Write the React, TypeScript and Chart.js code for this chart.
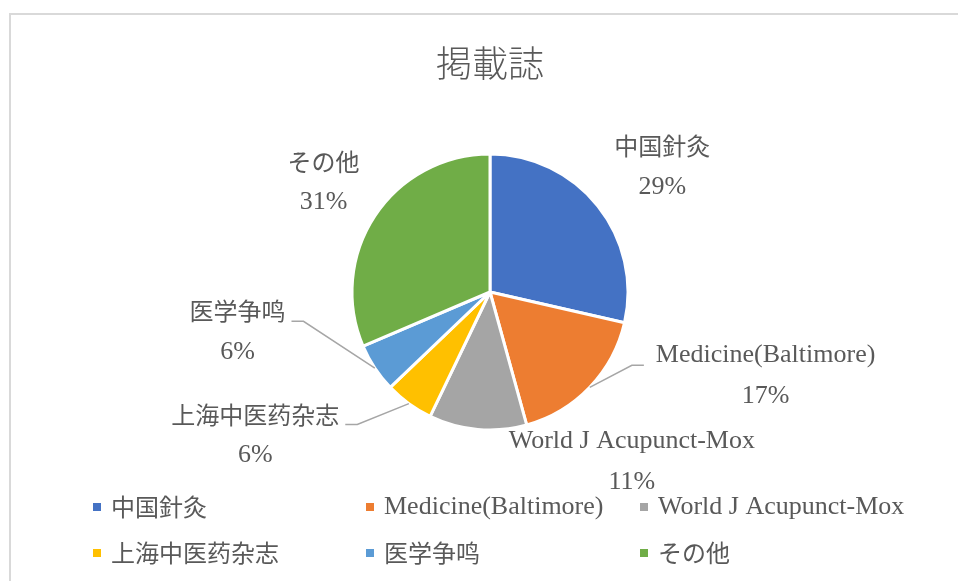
import React, { useEffect, useRef } from "react";
import { Chart, registerables } from "chart.js";

Chart.register(...registerables);

const TITLE = "掲載誌";
const categories = [
  "中国針灸",
  "Medicine(Baltimore)",
  "World J Acupunct-Mox",
  "上海中医药杂志",
  "医学争鸣",
  "その他",
];
const counts = [10, 6, 4, 2, 2, 11];
const colors = ["#4472C4", "#ED7D31", "#A5A5A5", "#FFC000", "#5B9BD5", "#70AD47"];

// label block offsets from the default radial position (style only)
const labelOffsets: [number, number][] = [
  [5, 8],
  [121, -64],
  [161, -43],
  [-109, -30],
  [-74, -78],
  [12, 8],
];
const hasLeader = [false, true, false, true, true, false];

const TEXT_COLOR = "#595959";
const CJK_RE = /[\u3000-\u9fff\uff00-\uffef]/;
const fontFor = (s: string) =>
  CJK_RE.test(s) ? '24px "Noto Sans CJK JP"' : '26px "Liberation Serif", "Noto Sans CJK JP"';

const overlayPlugin = {
  id: "excelOverlay",
  afterDraw(chart: any) {
    const ctx: CanvasRenderingContext2D = chart.ctx;
    ctx.save();

    // chart frame border
    ctx.strokeStyle = "#d9d9d9";
    ctx.lineWidth = 2;
    ctx.strokeRect(10, 14, 1000, 700);

    // title
    ctx.fillStyle = TEXT_COLOR;
    ctx.font = '300 36px "Noto Sans CJK JP"';
    ctx.textAlign = "center";
    ctx.textBaseline = "middle";
    ctx.fillText(TITLE, 490, 63);

    // data labels
    const meta = chart.getDatasetMeta(0);
    const total = counts.reduce((a, b) => a + b, 0);
    meta.data.forEach((arc: any, i: number) => {
      const { x, y, startAngle, endAngle, outerRadius } = arc.getProps(
        ["x", "y", "startAngle", "endAngle", "outerRadius"],
        true
      );
      const mid = (startAngle + endAngle) / 2;
      const base = outerRadius * 1.55;
      const bx = x + Math.cos(mid) * base + labelOffsets[i][0];
      const by = y + Math.sin(mid) * base + labelOffsets[i][1];
      const nameY = by - 20.5;
      const pctY = by + 20.5;
      const name = categories[i];
      const pct = Math.round((counts[i] / total) * 100) + "%";

      ctx.fillStyle = TEXT_COLOR;
      ctx.textAlign = "center";
      ctx.textBaseline = "middle";
      ctx.font = fontFor(name);
      const w = ctx.measureText(name).width;
      ctx.fillText(name, bx, nameY);
      ctx.font = fontFor(pct);
      ctx.fillText(pct, bx, pctY);

      if (hasLeader[i]) {
        const sx = x + Math.cos(mid) * outerRadius;
        const sy = y + Math.sin(mid) * outerRadius;
        const ly = nameY + 10;
        let ex: number, elx: number;
        if (bx > x) {
          ex = bx - w / 2 - 12;
          elx = ex - 12;
        } else {
          ex = bx + w / 2 + 6;
          elx = ex + 12;
        }
        ctx.strokeStyle = "#a6a6a6";
        ctx.lineWidth = 1.5;
        ctx.beginPath();
        ctx.moveTo(sx, sy);
        ctx.lineTo(elx, ly);
        ctx.lineTo(ex, ly);
        ctx.stroke();
      }
    });

    // legend (3 columns x 2 rows)
    const colX = [93, 366, 640];
    const rowY = [507, 553];
    categories.forEach((c, i) => {
      const cx = colX[i % 3];
      const cy = rowY[Math.floor(i / 3)];
      ctx.fillStyle = colors[i];
      ctx.fillRect(cx, cy - 4, 8, 8);
      ctx.fillStyle = TEXT_COLOR;
      ctx.textAlign = "left";
      ctx.textBaseline = "middle";
      ctx.font = fontFor(c);
      ctx.fillText(c, cx + 18, cy);
    });

    ctx.restore();
  },
};

export default function App() {
  const ref = useRef<HTMLCanvasElement | null>(null);

  useEffect(() => {
    if (!ref.current) return;
    const chart = new Chart(ref.current, {
      type: "pie",
      data: {
        labels: categories,
        datasets: [
          {
            data: counts,
            backgroundColor: colors,
            borderColor: "#ffffff",
            borderWidth: 3,
          },
        ],
      },
      options: {
        responsive: false,
        animation: false,
        devicePixelRatio: 1,
        layout: {
          padding: { left: 350.5, right: 328.5, top: 152.5, bottom: 149.5 },
        },
        plugins: {
          legend: { display: false },
          title: { display: false },
          tooltip: { enabled: false },
        },
      },
      plugins: [overlayPlugin],
    });
    return () => chart.destroy();
  }, []);

  return (
    <div style={{ position: "absolute", left: 0, top: 0, width: 958, height: 581, background: "#fff" }}>
      <canvas ref={ref} width={958} height={581} style={{ display: "block" }} />
    </div>
  );
}
